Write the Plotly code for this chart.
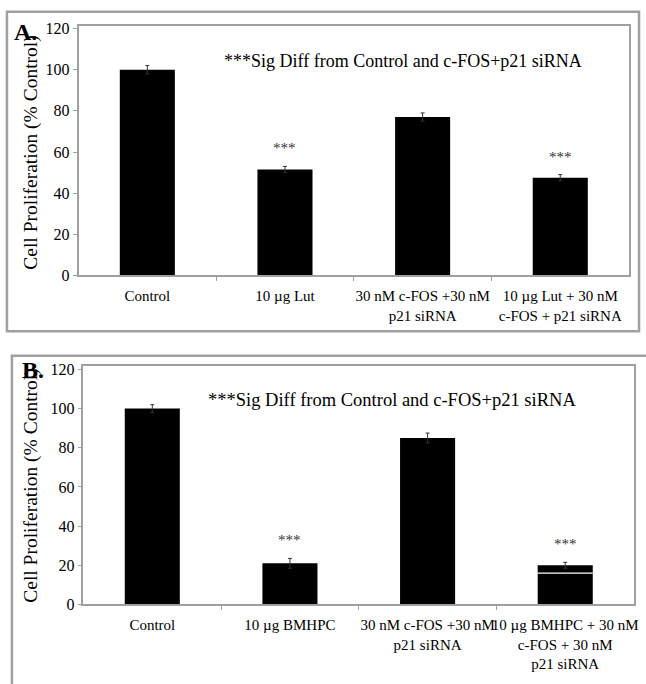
import plotly.graph_objects as go

W, H = 646, 684

# ---- data ----
labels_a = ["Control", "10 µg Lut", "30 nM c-FOS +30 nM<br>p21 siRNA", "10 µg Lut + 30 nM<br>c-FOS + p21 siRNA"]
values_a = [100, 51.5, 77, 47.5]
errors_a = [2, 1.5, 2, 1.5]
sig_a = [False, True, False, True]

labels_b = ["Control", "10 µg BMHPC", "30 nM c-FOS +30 nM<br>p21 siRNA", "10 µg BMHPC + 30 nM<br>c-FOS + 30 nM<br>p21 siRNA"]
values_b = [100, 21, 85, 20]
errors_b = [2, 2.5, 2.5, 1.5]
sig_b = [False, True, False, True]
inner_line_b = 16   # white line inside last bar of panel B

yticks = [0, 20, 40, 60, 80, 100, 120]
note = "***Sig Diff from Control and c-FOS+p21 siRNA"

FONT = "Liberation Serif"
GRAY = "#a0a0a0"
BAR_W = 0.4

def px(x):
    return x / W

def py(y):
    return 1 - y / H

fig = go.Figure()

idx = list(range(4))
for vals, errs, xa, ya in [(values_a, errors_a, "x", "y"), (values_b, errors_b, "x2", "y2")]:
    fig.add_trace(go.Bar(
        x=idx, y=vals, width=BAR_W, xaxis=xa, yaxis=ya,
        marker=dict(color="black", line=dict(color="black", width=0)),
        error_y=dict(type="data", array=errs, color="#333333", thickness=1, width=2),
        showlegend=False, hoverinfo="skip"))

# white line inside last bar of B
last = len(values_b) - 1
fig.add_trace(go.Scatter(
    x=[last - BAR_W / 2, last + BAR_W / 2], y=[inner_line_b, inner_line_b],
    xaxis="x2", yaxis="y2", mode="lines",
    line=dict(color="white", width=1.2), showlegend=False, hoverinfo="skip"))

def xaxis_cfg(domain, labels):
    return dict(
        domain=domain, range=[-0.5, 3.5], tickmode="array", tickvals=idx, ticktext=labels,
        ticks="", showline=True, linecolor=GRAY, linewidth=1.5, mirror=True,
        showgrid=False, zeroline=False, fixedrange=True, tickangle=0,
        tickfont=dict(family=FONT, size=15, color="black"),
        minor=dict(tickmode="array", tickvals=[0.5, 1.5, 2.5], ticks="outside",
                   ticklen=4, tickcolor=GRAY, tickwidth=1),
        ticklabelstandoff=6,
    )

def yaxis_cfg(domain, anchor, top):
    return dict(
        domain=domain, range=[0, top], tickmode="array", tickvals=yticks,
        ticks="outside", ticklen=4, tickcolor=GRAY, tickwidth=1,
        showline=True, linecolor=GRAY, linewidth=1.5, mirror=True,
        showgrid=False, zeroline=False, fixedrange=True, anchor=anchor,
        tickfont=dict(family=FONT, size=16, color="black"),
    )

fig.update_layout(
    width=W, height=H, margin=dict(l=0, r=0, t=0, b=0),
    paper_bgcolor="white", plot_bgcolor="white",
    font=dict(family=FONT, color="black"),
    xaxis=dict(xaxis_cfg([px(79), px(633)], labels_a), anchor="y"),
    yaxis=yaxis_cfg([py(276), py(21)], "x", 121.5),
    xaxis2=dict(xaxis_cfg([px(84), px(638)], labels_b), anchor="y2"),
    yaxis2=yaxis_cfg([py(612), py(369)], "x2", 121.5),
    bargap=0.6,
)

# outer frames
fig.add_shape(type="rect", xref="paper", yref="paper",
              x0=px(7), x1=px(643), y0=py(333), y1=py(7),
              line=dict(color=GRAY, width=2.5))
fig.add_shape(type="rect", xref="paper", yref="paper",
              x0=px(12), x1=1.05, y0=-0.05, y1=py(358),
              line=dict(color=GRAY, width=2.5))

ann = []
# panel letters
ann.append(dict(text="<b>A.</b>", x=px(12), y=py(28), xref="paper", yref="paper",
                xanchor="left", yanchor="middle", showarrow=False,
                font=dict(family=FONT, size=24, color="black")))
ann.append(dict(text="<b>B.</b>", x=px(20), y=py(373), xref="paper", yref="paper",
                xanchor="left", yanchor="middle", showarrow=False,
                font=dict(family=FONT, size=24, color="black")))
# y titles
for yc in [py(150), py(490)]:
    ann.append(dict(text="Cell Proliferation (% Control)", x=px(31), y=yc,
                    xref="paper", yref="paper", textangle=-90, showarrow=False,
                    xanchor="center", yanchor="middle",
                    font=dict(family=FONT, size=19.5, color="black")))
# notes
ann.append(dict(text=note, x=px(406), y=py(57), xref="paper", yref="paper",
                showarrow=False, xanchor="center", yanchor="middle",
                font=dict(family=FONT, size=18, color="black")))
ann.append(dict(text=note, x=px(394), y=py(403), xref="paper", yref="paper",
                showarrow=False, xanchor="center", yanchor="middle",
                font=dict(family=FONT, size=18.5, color="black")))
# significance stars
for vals, errs, sig, xr, yr in [(values_a, errors_a, sig_a, "x", "y"),
                                (values_b, errors_b, sig_b, "x2", "y2")]:
    for i, (v, e, s) in enumerate(zip(vals, errs, sig)):
        if s:
            ann.append(dict(text="***", x=i, y=v + e, xref=xr, yref=yr,
                            showarrow=False, xanchor="center", yanchor="bottom",
                            yshift=8,
                            font=dict(family=FONT, size=15, color="#333333")))
fig.update_layout(annotations=ann)

fig.write_html("out.html")
